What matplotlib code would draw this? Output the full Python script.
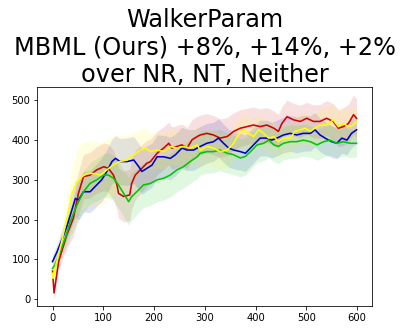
import numpy as np
import matplotlib
matplotlib.use("Agg")
import matplotlib.pyplot as plt

title = "WalkerParam\nMBML (Ours) +8%, +14%, +2%\nover NR, NT, Neither"

red_x = [0, 3, 12, 28, 41, 51, 58, 61, 74, 87, 101, 110, 120, 127, 130, 140, 152, 156, 163, 173, 186, 193, 206, 219, 229, 235, 245, 255, 265, 275, 285, 291, 304, 317, 330, 344, 357, 370, 383, 396, 409, 422, 436, 445, 452, 462, 475, 488, 501, 514, 527, 540, 553, 563, 573, 583, 593, 599]
red_y = [70, 15, 94, 161, 203, 266, 295, 308, 312, 325, 333, 329, 312, 287, 266, 258, 262, 291, 312, 325, 342, 346, 367, 380, 392, 380, 384, 388, 380, 401, 409, 413, 417, 413, 405, 409, 422, 430, 434, 438, 434, 438, 430, 422, 442, 459, 451, 447, 455, 447, 447, 455, 447, 430, 434, 442, 464, 455]

blue_x = [0, 9, 22, 28, 35, 45, 51, 61, 74, 87, 97, 107, 117, 124, 133, 147, 160, 170, 176, 186, 196, 206, 219, 232, 242, 255, 265, 278, 291, 304, 317, 327, 337, 347, 357, 370, 380, 390, 399, 409, 422, 432, 442, 455, 468, 481, 494, 508, 517, 527, 537, 550, 560, 570, 580, 589, 599]
blue_y = [94, 119, 161, 182, 211, 253, 249, 270, 270, 287, 300, 321, 346, 354, 346, 346, 350, 333, 321, 329, 337, 358, 358, 354, 363, 380, 375, 375, 384, 392, 396, 405, 392, 380, 375, 371, 367, 380, 392, 405, 405, 400, 405, 413, 417, 413, 417, 417, 426, 413, 405, 396, 392, 405, 400, 417, 426]

yellow_x = [0, 1, 5, 18, 31, 38, 48, 58, 68, 81, 94, 107, 120, 133, 147, 160, 173, 183, 193, 206, 219, 232, 245, 258, 271, 285, 291, 304, 317, 330, 344, 357, 366, 376, 386, 396, 406, 416, 426, 436, 445, 455, 468, 478, 488, 498, 508, 517, 527, 540, 553, 563, 573, 583, 593, 599]
yellow_y = [65, 52, 77, 144, 219, 265, 295, 308, 316, 316, 312, 325, 338, 346, 350, 363, 375, 380, 371, 375, 371, 384, 380, 384, 380, 388, 375, 384, 380, 371, 375, 392, 413, 426, 417, 409, 426, 417, 405, 409, 396, 405, 405, 422, 426, 430, 422, 430, 438, 438, 451, 434, 442, 434, 438, 447]

green_x = [0, 5, 15, 25, 35, 48, 61, 74, 87, 101, 110, 120, 130, 140, 150, 156, 166, 179, 193, 206, 219, 232, 245, 258, 271, 285, 291, 304, 317, 330, 344, 357, 370, 380, 390, 403, 416, 426, 436, 445, 455, 468, 481, 494, 508, 521, 534, 547, 560, 573, 586, 599]
green_y = [77, 86, 119, 153, 195, 236, 270, 291, 300, 312, 312, 304, 287, 266, 245, 258, 270, 287, 291, 300, 304, 312, 325, 333, 346, 358, 367, 371, 371, 375, 367, 363, 355, 359, 371, 388, 392, 400, 388, 384, 392, 396, 396, 400, 396, 388, 396, 400, 392, 396, 392, 392]

band_x = [0, 20, 50, 100, 150, 200, 300, 400, 500, 600]
red_band = [15, 25, 55, 60, 65, 55, 50, 45, 40, 50]
blue_band = [15, 25, 50, 55, 60, 55, 50, 45, 45, 35]
yellow_band = [15, 25, 85, 80, 60, 45, 45, 40, 40, 40]
green_band = [15, 25, 50, 55, 60, 55, 55, 45, 40, 35]

series = [
    (red_x, red_y, red_band, "#d40000"),
    (blue_x, blue_y, blue_band, "#0000cc"),
    (green_x, green_y, green_band, "#00c800"),
    (yellow_x, yellow_y, yellow_band, "#ffff00"),
]

fig = plt.figure(figsize=(402 / 72, 332 / 72), dpi=72)
ax = fig.add_axes([37.3 / 402, 1 - 305.7 / 332, 335 / 402, 218.4 / 332])

for xs, ys, bw, c in series:
    xs = np.asarray(xs, float)
    ys = np.asarray(ys, float)
    hw = np.interp(xs, band_x, bw)
    ax.fill_between(xs, ys - hw, ys + hw, color=c, alpha=0.12, linewidth=0)
for xs, ys, bw, c in series:
    ax.plot(xs, ys, color=c, linewidth=1.6)

ax.set_xlim(-30, 630)
ax.set_ylim(-17, 533)
ax.set_xticks([0, 100, 200, 300, 400, 500, 600])
ax.set_yticks([0, 100, 200, 300, 400, 500])
ax.tick_params(labelsize=10)
ax.set_title(title, fontsize=24, linespacing=1.2, pad=5)

fig.savefig("out.png", dpi=72)
